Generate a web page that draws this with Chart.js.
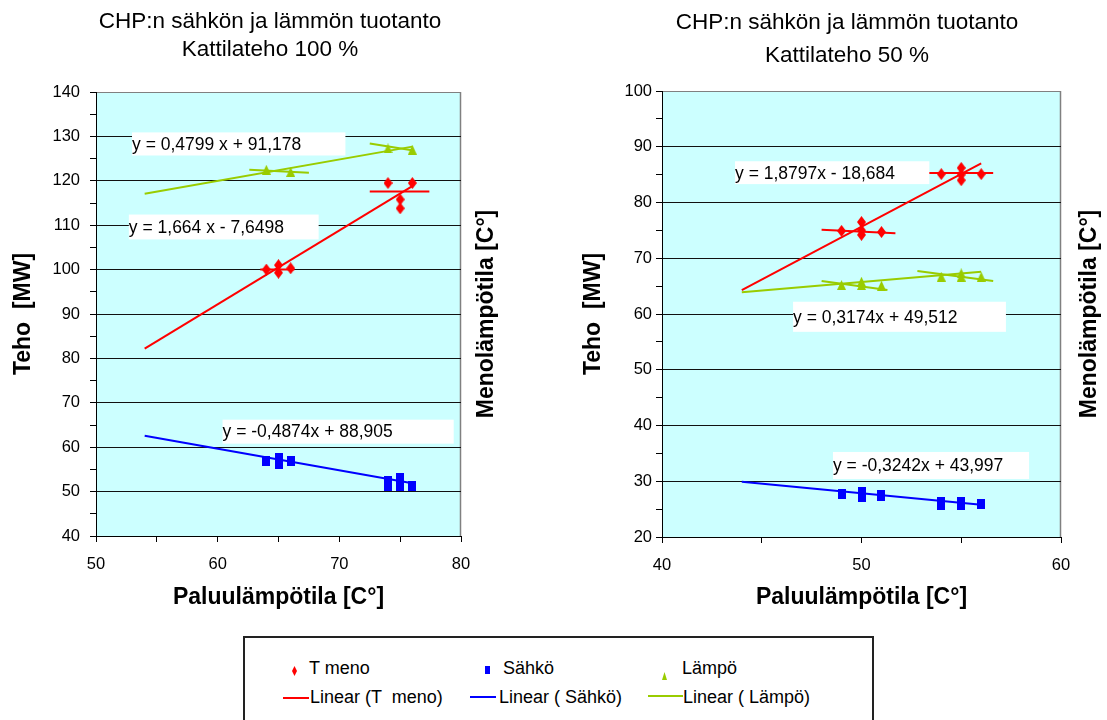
<!DOCTYPE html>
<html>
<head>
<meta charset="utf-8">
<script src="https://cdn.jsdelivr.net/npm/chart.js@4.4.0/dist/chart.umd.min.js"></script>
<style>
  body { margin: 0; width: 1107px; height: 720px; overflow: hidden; position: relative; background: #fff;
         font-family: "Liberation Sans", Arial, sans-serif; }
  #c100 { position: absolute; left: 0; top: 0; }
  #c50 { position: absolute; left: 553px; top: 0; }
  #legend { position: absolute; left: 243px; top: 636px; width: 627px; height: 100px; border: 2px solid #222; }
  .lg { position: absolute; font-size: 18px; line-height: 20px; color: #000; white-space: pre; }
  .mk { position: absolute; }
  .ln { position: absolute; height: 2px; }
</style>
</head>
<body>
<canvas id="c100" width="553" height="620"></canvas>
<canvas id="c50" width="554" height="620"></canvas>
<div id="legend"></div>
<script>
const FONT = '"Liberation Sans", Arial, sans-serif';
const RED = '#FF0000', BLUE = '#0000FF', GREEN = '#99CC00';

// Kattilateho 100 %
const tMeno100X = [64, 65, 65, 66, 74, 75, 75, 76];
const tMeno100Y = [100, 101, 99.3, 100.3, 119.5, 115.8, 113.8, 119.5];
const sahko100X = [64, 65, 65, 66, 74, 74, 75, 75, 76];
const sahko100Y = [57, 57.6, 56.3, 57, 52.4, 51.3, 53.1, 51.3, 51.3];
const lampo100X = [64, 66, 74, 76];
const lampo100Y = [122.5, 122, 127.3, 127];
const trend100X = [54, 76];
const tMenoTrend100 = [82.2, 118.8];
const sahkoTrend100 = [62.6, 51.9];
const lampoTrend100 = [117.1, 127.7];
// short bars around the clusters: x1, y1, x2, y2
const tMenoBars100 = [[63.5, 100, 66.3, 100], [72.5, 117.6, 77.4, 117.6]];
const lampoBars100 = [[62.6, 122.5, 67.5, 121.8], [72.5, 128.4, 76.1, 126.8]];
const eqText100 = ['y = 0,4799 x + 91,178', 'y = 1,664 x - 7,6498', 'y = -0,4874x + 88,905'];

// Kattilateho 50 %
const tMeno50X = [49, 50, 50, 50, 51, 54, 55, 55, 55, 56];
const tMeno50Y = [74.9, 76.5, 75, 74.2, 74.7, 85.1, 86.2, 85, 84, 85.1];
const sahko50X = [49, 50, 50, 51, 51, 54, 54, 55, 55, 56];
const sahko50Y = [27.8, 28, 27.2, 27.6, 27.3, 26.3, 25.8, 26.2, 25.8, 25.9];
const lampo50X = [49, 50, 50, 51, 54, 55, 55, 56];
const lampo50Y = [65.2, 65.8, 65.2, 65.1, 66.7, 67.3, 66.7, 66.7];
const trend50X = [44, 56];
const tMenoTrend50 = [64.3, 87.0];
const sahkoTrend50 = [29.9, 25.8];
const lampoTrend50 = [63.9, 67.6];
const tMenoBars50 = [[48.0, 75.1, 51.7, 74.5], [53.1, 85.3, 56.6, 85.3]];
const lampoBars50 = [[48.0, 65.9, 51.3, 64.3], [52.8, 67.7, 56.6, 65.9]];
const eqText50 = ['y = 1,8797x - 18,684', 'y = 0,3174x + 49,512', 'y = -0,3242x + 43,997'];

// where the white equation boxes sit (data units: left, top, right, bottom)
const eqBox100 = [[52.96, 130.9, 70.5, 125.7], [52.7, 112.4, 68.3, 106.8], [60.4, 66.2, 79.4, 60.8]];
const eqBox50 = [[43.66, 87.4, 53.4, 83.3], [46.57, 62.2, 57.24, 56.8], [48.57, 35.25, 58.4, 30.4]];

function marker(w, h, color, shape) {
  const c = document.createElement('canvas');
  c.width = w; c.height = h;
  const g = c.getContext('2d');
  g.fillStyle = color;
  g.beginPath();
  if (shape === 'diamond') { g.moveTo(w / 2, 0); g.lineTo(w, h / 2); g.lineTo(w / 2, h); g.lineTo(0, h / 2); }
  else if (shape === 'triangle') { g.moveTo(w / 2, 0); g.lineTo(w, h); g.lineTo(0, h); }
  else g.rect(0, 0, w, h);
  g.closePath();
  g.fill();
  return c;
}
const diamond = marker(9, 12, RED, 'diamond');
const square = marker(8, 10, BLUE, 'rect');
const triangle = marker(9, 10, GREEN, 'triangle');

const pts = (xs, ys) => xs.map((x, i) => ({ x, y: ys[i] }));

function lineSet(data, color) {
  return { data, showLine: true, borderColor: color, borderWidth: 2, pointRadius: 0, fill: false };
}
function barSets(bars, color) {
  return bars.map(b => lineSet([{ x: b[0], y: b[1] }, { x: b[2], y: b[3] }], color));
}

function buildChart(id, c) {
  const canvas = document.getElementById(id);
  const W = canvas.width, H = canvas.height;

  const extras = {
    id: 'extras',
    beforeDraw(chart) {
      const { ctx, chartArea: a } = chart;
      ctx.save();
      ctx.fillStyle = '#CCFFFF';
      ctx.fillRect(a.left, a.top, a.right - a.left, a.bottom - a.top);
      ctx.strokeStyle = '#808080';
      ctx.lineWidth = 1.5;
      ctx.beginPath();
      ctx.moveTo(a.right - 0.5, a.top);
      ctx.lineTo(a.right - 0.5, a.bottom);
      ctx.stroke();
      ctx.restore();
    },
    afterDatasetsDraw(chart) {
      const { ctx } = chart;
      const sx = chart.scales.x, sy = chart.scales.y;
      ctx.save();
      ctx.font = '17.5px ' + FONT;
      ctx.textBaseline = 'middle';
      ctx.textAlign = 'left';
      c.eqText.forEach((t, i) => {
        const b = c.eqBox[i];
        const l = sx.getPixelForValue(b[0]), r = sx.getPixelForValue(b[2]);
        const tp = sy.getPixelForValue(b[1]), bt = sy.getPixelForValue(b[3]);
        ctx.fillStyle = '#fff';
        ctx.fillRect(l, tp, r - l, bt - tp);
        ctx.fillStyle = '#000';
        ctx.fillText(t, l, (tp + bt) / 2 + 1);
      });
      ctx.restore();
    },
    afterDraw(chart) {
      const { ctx, chartArea: a } = chart;
      ctx.save();
      ctx.fillStyle = '#000';
      ctx.textAlign = 'center';
      ctx.textBaseline = 'middle';
      ctx.font = '22.5px ' + FONT;
      c.title.forEach((t, i) => ctx.fillText(t, c.titleX, c.titleY[i]));
      ctx.font = 'bold 23px ' + FONT;
      ctx.translate(c.rightTitleX, (a.top + a.bottom) / 2);
      ctx.rotate(-Math.PI / 2);
      ctx.fillText('Menolämpötila [C°]', 0, 0);
      ctx.restore();
    }
  };

  const datasets = [
    lineSet(pts(c.trendX, c.tMenoTrend), RED),
    lineSet(pts(c.trendX, c.sahkoTrend), BLUE),
    lineSet(pts(c.trendX, c.lampoTrend), GREEN),
    ...barSets(c.tMenoBars, RED),
    ...barSets(c.lampoBars, GREEN),
    { label: 'T meno', data: pts(c.tMenoX, c.tMenoY), pointStyle: diamond },
    { label: 'Sähkö', data: pts(c.sahkoX, c.sahkoY), pointStyle: square },
    { label: 'Lämpö', data: pts(c.lampoX, c.lampoY), pointStyle: triangle }
  ];

  return new Chart(canvas, {
    type: 'scatter',
    data: { datasets },
    options: {
      responsive: false,
      animation: false,
      events: [],
      layout: { padding: { left: 0, top: c.plotTop, right: W - c.plotRight, bottom: 0 } },
      plugins: { legend: { display: false }, tooltip: { enabled: false } },
      scales: {
        x: {
          type: 'linear', min: c.xMin, max: c.xMax,
          afterFit: s => { s.height = H - c.plotBottom; },
          ticks: { stepSize: 5, autoSkip: false, padding: 13, color: '#000',
                   font: { family: FONT, size: 16.5 },
                   callback: v => (v % 10 === 0 ? v : '') },
          grid: { drawOnChartArea: false, tickLength: 6, tickColor: '#000', color: '#000' },
          border: { color: '#000', width: 1 },
          title: { display: true, text: 'Paluulämpötila [C°]', color: '#000',
                   font: { family: FONT, size: 23, weight: 'bold' }, padding: { top: 0, bottom: 9 } }
        },
        y: {
          type: 'linear', min: c.yMin, max: c.yMax,
          afterFit: s => { s.width = c.plotLeft; },
          ticks: { stepSize: 5, autoSkip: false, padding: c.yTickPad, color: '#000',
                   font: { family: FONT, size: 16.5 },
                   callback: v => (v % 10 === 0 ? v : '') },
          grid: {
            tickLength: 6, tickColor: '#000', lineWidth: 1,
            color: ctx => {
              const v = ctx.tick ? ctx.tick.value : 0;
              if (v % 10 !== 0) return 'rgba(0,0,0,0)';
              return v === c.yMax ? '#808080' : '#111';
            }
          },
          border: { color: '#000', width: 1 },
          title: { display: true, text: 'Teho  [MW]', color: '#000',
                   font: { family: FONT, size: 23, weight: 'bold' }, padding: { top: c.yTitlePad, bottom: 0 } }
        }
      }
    },
    plugins: [extras]
  });
}

buildChart('c100', {
  tMenoX: tMeno100X, tMenoY: tMeno100Y, sahkoX: sahko100X, sahkoY: sahko100Y,
  lampoX: lampo100X, lampoY: lampo100Y, trendX: trend100X,
  tMenoTrend: tMenoTrend100, sahkoTrend: sahkoTrend100, lampoTrend: lampoTrend100,
  tMenoBars: tMenoBars100, lampoBars: lampoBars100,
  eqText: eqText100, eqBox: eqBox100,
  xMin: 50, xMax: 80, yMin: 40, yMax: 140,
  plotLeft: 96, plotRight: 461, plotTop: 92, plotBottom: 536,
  yTickPad: 10, yTitlePad: 10,
  title: ['CHP:n sähkön ja lämmön tuotanto', 'Kattilateho 100 %'], titleX: 270, titleY: [22, 50],
  rightTitleX: 487
});

buildChart('c50', {
  tMenoX: tMeno50X, tMenoY: tMeno50Y, sahkoX: sahko50X, sahkoY: sahko50Y,
  lampoX: lampo50X, lampoY: lampo50Y, trendX: trend50X,
  tMenoTrend: tMenoTrend50, sahkoTrend: sahkoTrend50, lampoTrend: lampoTrend50,
  tMenoBars: tMenoBars50, lampoBars: lampoBars50,
  eqText: eqText50, eqBox: eqBox50,
  xMin: 40, xMax: 60, yMin: 20, yMax: 100,
  plotLeft: 109, plotRight: 508, plotTop: 91, plotBottom: 537,
  yTickPad: 4, yTitlePad: 27,
  title: ['CHP:n sähkön ja lämmön tuotanto', 'Kattilateho 50 %'], titleX: 294, titleY: [23, 56],
  rightTitleX: 537
});

// shared legend under the charts
const legendItems = [
  { kind: 'mk', shape: 'polygon(50% 0, 100% 50%, 50% 100%, 0 50%)', color: RED, x: 292, y: 666, w: 5, h: 10 },
  { kind: 'txt', text: 'T meno', x: 309, y: 658 },
  { kind: 'mk', shape: 'none', color: BLUE, x: 485, y: 666, w: 5, h: 8 },
  { kind: 'txt', text: 'Sähkö', x: 503, y: 658 },
  { kind: 'mk', shape: 'polygon(50% 0, 100% 100%, 0 100%)', color: GREEN, x: 662, y: 672, w: 5, h: 8 },
  { kind: 'txt', text: 'Lämpö', x: 682, y: 658 },
  { kind: 'ln', color: RED, x: 283, y: 697, w: 26 },
  { kind: 'txt', text: 'Linear (T  meno)', x: 310, y: 687 },
  { kind: 'ln', color: BLUE, x: 470, y: 696, w: 26 },
  { kind: 'txt', text: 'Linear ( Sähkö)', x: 499, y: 687 },
  { kind: 'ln', color: GREEN, x: 648, y: 695, w: 35 },
  { kind: 'txt', text: 'Linear ( Lämpö)', x: 683, y: 687 }
];
legendItems.forEach(it => {
  const d = document.createElement('div');
  d.style.left = it.x + 'px';
  d.style.top = it.y + 'px';
  if (it.kind === 'txt') {
    d.className = 'lg';
    d.textContent = it.text;
  } else {
    d.className = it.kind;
    d.style.background = it.color;
    d.style.width = it.w + 'px';
    if (it.kind === 'mk') {
      d.style.height = it.h + 'px';
      if (it.shape !== 'none') d.style.clipPath = it.shape;
    }
  }
  document.body.appendChild(d);
});
</script>
</body>
</html>
